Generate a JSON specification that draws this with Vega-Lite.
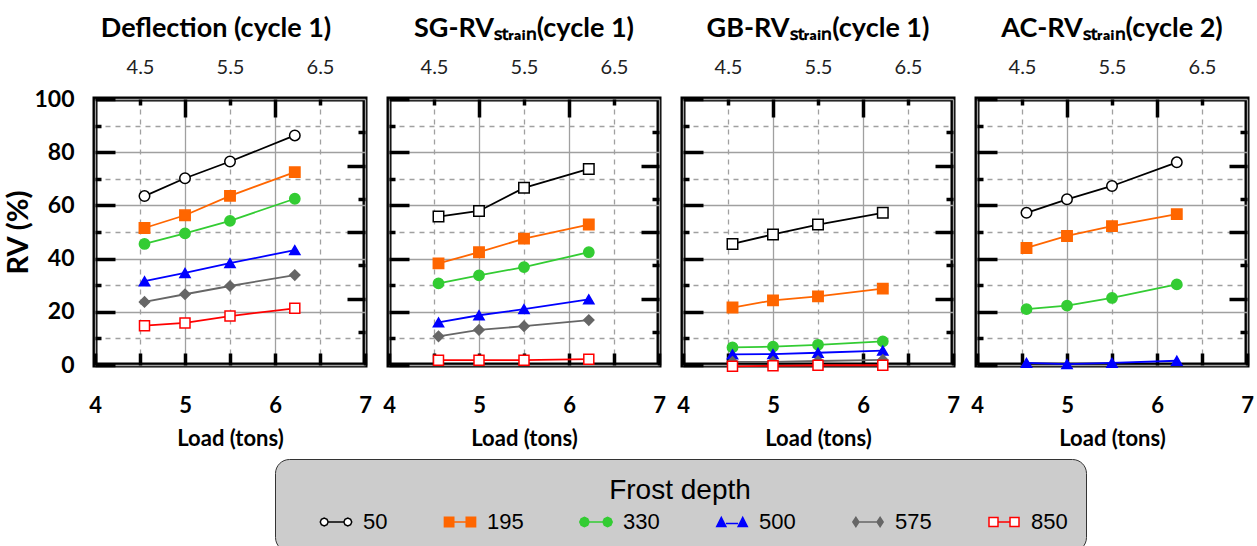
{
  "$schema": "https://vega.github.io/schema/vega-lite/v6.json",
  "background": "white",
  "padding": {"left": 2, "top": 12, "right": 5, "bottom": 0},
  "bounds": "flush",
  "spacing": 24,
  "config": {
    "view": {"stroke": "black", "strokeWidth": 5},
    "title": {"font": "Lato", "fontSize": 27, "fontWeight": "bold", "color": "black", "offset": 14},
    "axis": {"domain": false, "ticks": true, "tickColor": "black", "tickWidth": 3.5, "tickOpacity": 1, "labelFlush": false, "labelOverlap": false, "gridColor": "#a0a0a0", "gridWidth": 1.3, "labelColor": "black", "titleColor": "black"},
    "axisBottom": {"labelFont": "Lato", "labelFontSize": 22, "labelFontWeight": "bold", "titleFont": "Lato", "titleFontSize": 22, "titleFontWeight": "bold", "titlePadding": 12, "labelPadding": 30, "tickSize": 12},
    "axisTop": {"labelFont": "Lato", "labelFontSize": 20, "labelColor": "#222222", "labelPadding": 22, "tickSize": 18},
    "axisLeft": {"labelFont": "Lato", "labelFontSize": 23, "labelFontWeight": "bold", "titleFont": "Lato", "titleFontSize": 29, "titleFontWeight": "bold", "titlePadding": 0, "labelPadding": 21, "tickSize": 20},
    "axisRight": {"tickSize": 18},
    "legend": {"orient": "none", "legendX": 180, "legendY": 360, "direction": "horizontal", "columns": 6, "titleOrient": "top", "titleAnchor": "middle", "titleFont": "Liberation Sans", "titleFontSize": 28, "titleFontWeight": "normal", "titleColor": "black", "titlePadding": 6, "labelFont": "Liberation Sans", "labelFontSize": 22, "labelColor": "black", "labelOffset": 16, "symbolOffset": 32, "columnPadding": 29, "padding": 18, "fillColor": "#cccccc", "strokeColor": "#333333", "cornerRadius": 14, "symbolStrokeWidth": 1.5}
  },
  "data": {"values": [
    {"panel": "D", "depth": "50", "load": 4.55, "rv": 63.5}, {"panel": "D", "depth": "50", "load": 5.0, "rv": 70.2}, {"panel": "D", "depth": "50", "load": 5.5, "rv": 76.5}, {"panel": "D", "depth": "50", "load": 6.22, "rv": 86.3},
    {"panel": "D", "depth": "195", "load": 4.55, "rv": 51.5}, {"panel": "D", "depth": "195", "load": 5.0, "rv": 56.3}, {"panel": "D", "depth": "195", "load": 5.5, "rv": 63.6}, {"panel": "D", "depth": "195", "load": 6.22, "rv": 72.5},
    {"panel": "D", "depth": "330", "load": 4.55, "rv": 45.5}, {"panel": "D", "depth": "330", "load": 5.0, "rv": 49.5}, {"panel": "D", "depth": "330", "load": 5.5, "rv": 54.2}, {"panel": "D", "depth": "330", "load": 6.22, "rv": 62.5},
    {"panel": "D", "depth": "500", "load": 4.55, "rv": 31.5}, {"panel": "D", "depth": "500", "load": 5.0, "rv": 34.6}, {"panel": "D", "depth": "500", "load": 5.5, "rv": 38.3}, {"panel": "D", "depth": "500", "load": 6.22, "rv": 43.2},
    {"panel": "D", "depth": "575", "load": 4.55, "rv": 23.7}, {"panel": "D", "depth": "575", "load": 5.0, "rv": 26.6}, {"panel": "D", "depth": "575", "load": 5.5, "rv": 29.7}, {"panel": "D", "depth": "575", "load": 6.22, "rv": 33.8},
    {"panel": "D", "depth": "850", "load": 4.55, "rv": 14.8}, {"panel": "D", "depth": "850", "load": 5.0, "rv": 15.8}, {"panel": "D", "depth": "850", "load": 5.5, "rv": 18.4}, {"panel": "D", "depth": "850", "load": 6.22, "rv": 21.3},

    {"panel": "SG", "depth": "50", "load": 4.55, "rv": 55.8}, {"panel": "SG", "depth": "50", "load": 5.0, "rv": 57.9}, {"panel": "SG", "depth": "50", "load": 5.5, "rv": 66.6}, {"panel": "SG", "depth": "50", "load": 6.22, "rv": 73.7},
    {"panel": "SG", "depth": "195", "load": 4.55, "rv": 38.2}, {"panel": "SG", "depth": "195", "load": 5.0, "rv": 42.4}, {"panel": "SG", "depth": "195", "load": 5.5, "rv": 47.5}, {"panel": "SG", "depth": "195", "load": 6.22, "rv": 52.8},
    {"panel": "SG", "depth": "330", "load": 4.55, "rv": 30.7}, {"panel": "SG", "depth": "330", "load": 5.0, "rv": 33.7}, {"panel": "SG", "depth": "330", "load": 5.5, "rv": 36.8}, {"panel": "SG", "depth": "330", "load": 6.22, "rv": 42.4},
    {"panel": "SG", "depth": "500", "load": 4.55, "rv": 16.0}, {"panel": "SG", "depth": "500", "load": 5.0, "rv": 18.7}, {"panel": "SG", "depth": "500", "load": 5.5, "rv": 21.0}, {"panel": "SG", "depth": "500", "load": 6.22, "rv": 24.7},
    {"panel": "SG", "depth": "575", "load": 4.55, "rv": 10.8}, {"panel": "SG", "depth": "575", "load": 5.0, "rv": 13.2}, {"panel": "SG", "depth": "575", "load": 5.5, "rv": 14.6}, {"panel": "SG", "depth": "575", "load": 6.22, "rv": 16.9},
    {"panel": "SG", "depth": "850", "load": 4.55, "rv": 1.8}, {"panel": "SG", "depth": "850", "load": 5.0, "rv": 1.8}, {"panel": "SG", "depth": "850", "load": 5.5, "rv": 1.8}, {"panel": "SG", "depth": "850", "load": 6.22, "rv": 2.2},

    {"panel": "GB", "depth": "50", "load": 4.55, "rv": 45.5}, {"panel": "GB", "depth": "50", "load": 5.0, "rv": 49.1}, {"panel": "GB", "depth": "50", "load": 5.5, "rv": 52.8}, {"panel": "GB", "depth": "50", "load": 6.22, "rv": 57.2},
    {"panel": "GB", "depth": "195", "load": 4.55, "rv": 21.6}, {"panel": "GB", "depth": "195", "load": 5.0, "rv": 24.3}, {"panel": "GB", "depth": "195", "load": 5.5, "rv": 25.8}, {"panel": "GB", "depth": "195", "load": 6.22, "rv": 28.7},
    {"panel": "GB", "depth": "330", "load": 4.55, "rv": 6.6}, {"panel": "GB", "depth": "330", "load": 5.0, "rv": 6.9}, {"panel": "GB", "depth": "330", "load": 5.5, "rv": 7.6}, {"panel": "GB", "depth": "330", "load": 6.22, "rv": 8.9},
    {"panel": "GB", "depth": "500", "load": 4.55, "rv": 4.0}, {"panel": "GB", "depth": "500", "load": 5.0, "rv": 4.1}, {"panel": "GB", "depth": "500", "load": 5.5, "rv": 4.6}, {"panel": "GB", "depth": "500", "load": 6.22, "rv": 5.4},
    {"panel": "GB", "depth": "575", "load": 4.55, "rv": 1.2}, {"panel": "GB", "depth": "575", "load": 5.0, "rv": 1.2}, {"panel": "GB", "depth": "575", "load": 5.5, "rv": 1.5}, {"panel": "GB", "depth": "575", "load": 6.22, "rv": 1.9},
    {"panel": "GB", "depth": "850", "load": 4.55, "rv": -0.5}, {"panel": "GB", "depth": "850", "load": 5.0, "rv": -0.3}, {"panel": "GB", "depth": "850", "load": 5.5, "rv": -0.1}, {"panel": "GB", "depth": "850", "load": 6.22, "rv": -0.1},

    {"panel": "AC", "depth": "50", "load": 4.55, "rv": 57.2}, {"panel": "AC", "depth": "50", "load": 5.0, "rv": 62.3}, {"panel": "AC", "depth": "50", "load": 5.5, "rv": 67.3}, {"panel": "AC", "depth": "50", "load": 6.22, "rv": 76.2},
    {"panel": "AC", "depth": "195", "load": 4.55, "rv": 44.0}, {"panel": "AC", "depth": "195", "load": 5.0, "rv": 48.5}, {"panel": "AC", "depth": "195", "load": 5.5, "rv": 52.2}, {"panel": "AC", "depth": "195", "load": 6.22, "rv": 56.7},
    {"panel": "AC", "depth": "330", "load": 4.55, "rv": 21.0}, {"panel": "AC", "depth": "330", "load": 5.0, "rv": 22.3}, {"panel": "AC", "depth": "330", "load": 5.5, "rv": 25.2}, {"panel": "AC", "depth": "330", "load": 6.22, "rv": 30.3},
    {"panel": "AC", "depth": "500", "load": 4.55, "rv": 0.8}, {"panel": "AC", "depth": "500", "load": 5.0, "rv": 0.3}, {"panel": "AC", "depth": "500", "load": 5.5, "rv": 0.8}, {"panel": "AC", "depth": "500", "load": 6.22, "rv": 1.6}
  ]},
  "resolve": {"scale": {"color": "shared", "fill": "shared", "stroke": "shared", "size": "shared", "shape": "independent"}, "legend": {"color": "shared"}},
  "hconcat": [
    {
      "title": {"text": "Deflection (cycle 1)", "dx": -14},
      "width": 270, "height": 266,
      "transform": [{"filter": "datum.panel == 'D'"}],
      "resolve": {"axis": {"x": "independent", "y": "independent"}},
      "layer": [
        {
          "mark": {"type": "line", "strokeWidth": 1.8},
          "encoding": {
            "x": {"field": "load", "type": "quantitative", "scale": {"domain": [4, 7], "nice": false, "zero": false},
              "axis": {"orient": "bottom", "offset": -12, "values": [4, 4.5, 5, 5.5, 6, 6.5, 7], "labelExpr": "datum.value % 1 ? '' : format(datum.value, 'd')", "title": "Load (tons)", "grid": true, "gridDash": {"condition": {"test": "datum.value % 1 !== 0", "value": [5, 5]}, "value": []}}},
            "y": {"field": "rv", "type": "quantitative", "scale": {"domain": [0, 100], "nice": false},
              "axis": {"orient": "left", "offset": -20, "values": [0, 10, 20, 30, 40, 50, 60, 70, 80, 90, 100], "labelExpr": "datum.value % 20 ? '' : format(datum.value, 'd')", "title": "RV (%)", "tickDash": {"condition": {"test": "datum.value % 20 === 0", "value": []}, "value": [0, 14, 6, 40]}, "grid": true, "gridDash": {"condition": {"test": "datum.value % 20 !== 0", "value": [5, 5]}, "value": []}}},
            "color": {"field": "depth", "type": "nominal", "scale": {"domain": ["50", "195", "330", "500", "575", "850"], "range": ["#000000", "#ff6600", "#33cc33", "#0000ff", "#666666", "#ff0000"]},
              "legend": {"title": "Frost depth",
                "encode": {"symbols": {"update": {
                  "shape": {"signal": "datum.value == '50' ? 'M-1.5,0L-1.72,0.53L-2.25,0.75L-2.78,0.53L-3,0L-2.78,-0.53L-2.25,-0.75L-1.72,-0.53Z M3,0L2.78,0.53L2.25,0.75L1.72,0.53L1.5,0L1.72,-0.53L2.25,-0.75L2.78,-0.53Z M-1.5,0L1.5,0' : datum.value == '195' ? 'M-3,-0.9L-1.2,-0.9L-1.2,0.9L-3,0.9Z M1.2,-0.9L3,-0.9L3,0.9L1.2,0.9Z M-1.2,0L1.2,0' : datum.value == '330' ? 'M-1.35,0L-1.62,0.63L-2.25,0.9L-2.88,0.63L-3.15,0L-2.88,-0.63L-2.25,-0.9L-1.62,-0.63Z M3.15,0L2.88,0.63L2.25,0.9L1.62,0.63L1.35,0L1.62,-0.63L2.25,-0.9L2.88,-0.63Z M-1.35,0L1.35,0' : datum.value == '500' ? 'M-3,0.9L-2.1,-0.9L-1.2,0.9Z M1.2,0.9L2.1,-0.9L3,0.9Z M-1.2,0.3L1.2,0.3' : datum.value == '575' ? 'M-3,0L-2.4,-0.9L-1.8,0L-2.4,0.9Z M1.8,0L2.4,-0.9L3,0L2.4,0.9Z M-1.8,0L1.8,0' : 'M-3,-0.9L-1.2,-0.9L-1.2,0.9L-3,0.9Z M1.2,-0.9L3,-0.9L3,0.9L1.2,0.9Z M-1.2,0L1.2,0'"},
                  "fill": {"signal": "datum.value == '195' ? '#ff6600' : datum.value == '330' ? '#33cc33' : datum.value == '500' ? '#0000ff' : datum.value == '575' ? '#666666' : 'transparent'"},
                  "strokeWidth": {"value": 1.5}
                }}}}}
          }
        },
        {
          "mark": {"type": "point", "strokeWidth": 1.5, "opacity": 1},
          "encoding": {
            "x": {"field": "load", "type": "quantitative", "scale": {"domain": [4, 7], "nice": false, "zero": false},
              "axis": {"orient": "top", "offset": -18, "values": [4.5, 5, 5.5, 6, 6.5], "labelExpr": "datum.value % 1 ? format(datum.value, '.1f') : ''", "title": null, "grid": false, "tickDash": {"condition": {"test": "datum.value % 1 === 0", "value": []}, "value": [0, 12, 6, 40]}}},
            "y": {"field": "rv", "type": "quantitative", "scale": {"domain": [0, 100], "nice": false},
              "axis": {"orient": "right", "offset": -18, "values": [12.5, 25, 37.5, 50, 62.5, 75, 87.5], "labels": false, "title": null, "grid": false, "tickDash": {"condition": {"test": "datum.value % 25 === 0", "value": []}, "value": [0, 11, 7, 40]}}},
            "stroke": {"field": "depth", "type": "nominal", "scale": {"domain": ["50", "195", "330", "500", "575", "850"], "range": ["#000000", "#ff6600", "#33cc33", "#0000ff", "#666666", "#ff0000"]}, "legend": null},
            "fill": {"field": "depth", "type": "nominal", "scale": {"domain": ["50", "195", "330", "500", "575", "850"], "range": ["#ffffff", "#ff6600", "#33cc33", "#0000ff", "#666666", "#ffffff"]}, "legend": null},
            "shape": {"field": "depth", "type": "nominal", "scale": {"domain": ["50", "195", "330", "500", "575", "850"], "range": ["circle", "square", "circle", "triangle-up", "diamond", "square"]}, "legend": null},
            "size": {"field": "depth", "type": "ordinal", "scale": {"domain": ["50", "195", "330", "500", "575", "850"], "range": [110, 100, 160, 110, 100, 64]}, "legend": null}
          }
        }
      ]
    },
    {
      "title": "SG-RVₛₜᵣₐᵢₙ(cycle 1)",
      "width": 270, "height": 266,
      "transform": [{"filter": "datum.panel == 'SG'"}],
      "resolve": {"axis": {"x": "independent", "y": "independent"}},
      "layer": [
        {
          "mark": {"type": "line", "strokeWidth": 1.8},
          "encoding": {
            "x": {"field": "load", "type": "quantitative", "scale": {"domain": [4, 7], "nice": false, "zero": false},
              "axis": {"orient": "bottom", "offset": -12, "values": [4, 4.5, 5, 5.5, 6, 6.5, 7], "labelExpr": "datum.value % 1 ? '' : format(datum.value, 'd')", "title": "Load (tons)", "grid": true, "gridDash": {"condition": {"test": "datum.value % 1 !== 0", "value": [5, 5]}, "value": []}}},
            "y": {"field": "rv", "type": "quantitative", "scale": {"domain": [0, 100], "nice": false},
              "axis": {"orient": "left", "offset": -20, "values": [0, 10, 20, 30, 40, 50, 60, 70, 80, 90, 100], "labels": false, "title": null, "tickDash": {"condition": {"test": "datum.value % 20 === 0", "value": []}, "value": [0, 14, 6, 40]}, "grid": true, "gridDash": {"condition": {"test": "datum.value % 20 !== 0", "value": [5, 5]}, "value": []}}},
            "color": {"field": "depth", "type": "nominal", "scale": {"domain": ["50", "195", "330", "500", "575", "850"], "range": ["#000000", "#ff6600", "#33cc33", "#0000ff", "#666666", "#ff0000"]},
              "legend": {"title": "Frost depth",
                "encode": {"symbols": {"update": {
                  "shape": {"signal": "datum.value == '50' ? 'M-1.5,0L-1.72,0.53L-2.25,0.75L-2.78,0.53L-3,0L-2.78,-0.53L-2.25,-0.75L-1.72,-0.53Z M3,0L2.78,0.53L2.25,0.75L1.72,0.53L1.5,0L1.72,-0.53L2.25,-0.75L2.78,-0.53Z M-1.5,0L1.5,0' : datum.value == '195' ? 'M-3,-0.9L-1.2,-0.9L-1.2,0.9L-3,0.9Z M1.2,-0.9L3,-0.9L3,0.9L1.2,0.9Z M-1.2,0L1.2,0' : datum.value == '330' ? 'M-1.35,0L-1.62,0.63L-2.25,0.9L-2.88,0.63L-3.15,0L-2.88,-0.63L-2.25,-0.9L-1.62,-0.63Z M3.15,0L2.88,0.63L2.25,0.9L1.62,0.63L1.35,0L1.62,-0.63L2.25,-0.9L2.88,-0.63Z M-1.35,0L1.35,0' : datum.value == '500' ? 'M-3,0.9L-2.1,-0.9L-1.2,0.9Z M1.2,0.9L2.1,-0.9L3,0.9Z M-1.2,0.3L1.2,0.3' : datum.value == '575' ? 'M-3,0L-2.4,-0.9L-1.8,0L-2.4,0.9Z M1.8,0L2.4,-0.9L3,0L2.4,0.9Z M-1.8,0L1.8,0' : 'M-3,-0.9L-1.2,-0.9L-1.2,0.9L-3,0.9Z M1.2,-0.9L3,-0.9L3,0.9L1.2,0.9Z M-1.2,0L1.2,0'"},
                  "fill": {"signal": "datum.value == '195' ? '#ff6600' : datum.value == '330' ? '#33cc33' : datum.value == '500' ? '#0000ff' : datum.value == '575' ? '#666666' : 'transparent'"},
                  "strokeWidth": {"value": 1.5}
                }}}}}
          }
        },
        {
          "mark": {"type": "point", "strokeWidth": 1.5, "opacity": 1},
          "encoding": {
            "x": {"field": "load", "type": "quantitative", "scale": {"domain": [4, 7], "nice": false, "zero": false},
              "axis": {"orient": "top", "offset": -18, "values": [4.5, 5, 5.5, 6, 6.5], "labelExpr": "datum.value % 1 ? format(datum.value, '.1f') : ''", "title": null, "grid": false, "tickDash": {"condition": {"test": "datum.value % 1 === 0", "value": []}, "value": [0, 12, 6, 40]}}},
            "y": {"field": "rv", "type": "quantitative", "scale": {"domain": [0, 100], "nice": false},
              "axis": {"orient": "right", "offset": -18, "values": [12.5, 25, 37.5, 50, 62.5, 75, 87.5], "labels": false, "title": null, "grid": false, "tickDash": {"condition": {"test": "datum.value % 25 === 0", "value": []}, "value": [0, 11, 7, 40]}}},
            "stroke": {"field": "depth", "type": "nominal", "scale": {"domain": ["50", "195", "330", "500", "575", "850"], "range": ["#000000", "#ff6600", "#33cc33", "#0000ff", "#666666", "#ff0000"]}, "legend": null},
            "fill": {"field": "depth", "type": "nominal", "scale": {"domain": ["50", "195", "330", "500", "575", "850"], "range": ["#ffffff", "#ff6600", "#33cc33", "#0000ff", "#666666", "#ffffff"]}, "legend": null},
            "shape": {"field": "depth", "type": "nominal", "scale": {"domain": ["50", "195", "330", "500", "575", "850"], "range": ["square", "square", "circle", "triangle-up", "diamond", "square"]}, "legend": null},
            "size": {"field": "depth", "type": "ordinal", "scale": {"domain": ["50", "195", "330", "500", "575", "850"], "range": [110, 100, 160, 110, 100, 64]}, "legend": null}
          }
        }
      ]
    },
    {
      "title": "GB-RVₛₜᵣₐᵢₙ(cycle 1)",
      "width": 270, "height": 266,
      "transform": [{"filter": "datum.panel == 'GB'"}],
      "resolve": {"axis": {"x": "independent", "y": "independent"}},
      "layer": [
        {
          "mark": {"type": "line", "strokeWidth": 1.8},
          "encoding": {
            "x": {"field": "load", "type": "quantitative", "scale": {"domain": [4, 7], "nice": false, "zero": false},
              "axis": {"orient": "bottom", "offset": -12, "values": [4, 4.5, 5, 5.5, 6, 6.5, 7], "labelExpr": "datum.value % 1 ? '' : format(datum.value, 'd')", "title": "Load (tons)", "grid": true, "gridDash": {"condition": {"test": "datum.value % 1 !== 0", "value": [5, 5]}, "value": []}}},
            "y": {"field": "rv", "type": "quantitative", "scale": {"domain": [0, 100], "nice": false},
              "axis": {"orient": "left", "offset": -20, "values": [0, 10, 20, 30, 40, 50, 60, 70, 80, 90, 100], "labels": false, "title": null, "tickDash": {"condition": {"test": "datum.value % 20 === 0", "value": []}, "value": [0, 14, 6, 40]}, "grid": true, "gridDash": {"condition": {"test": "datum.value % 20 !== 0", "value": [5, 5]}, "value": []}}},
            "color": {"field": "depth", "type": "nominal", "scale": {"domain": ["50", "195", "330", "500", "575", "850"], "range": ["#000000", "#ff6600", "#33cc33", "#0000ff", "#666666", "#ff0000"]},
              "legend": {"title": "Frost depth",
                "encode": {"symbols": {"update": {
                  "shape": {"signal": "datum.value == '50' ? 'M-1.5,0L-1.72,0.53L-2.25,0.75L-2.78,0.53L-3,0L-2.78,-0.53L-2.25,-0.75L-1.72,-0.53Z M3,0L2.78,0.53L2.25,0.75L1.72,0.53L1.5,0L1.72,-0.53L2.25,-0.75L2.78,-0.53Z M-1.5,0L1.5,0' : datum.value == '195' ? 'M-3,-0.9L-1.2,-0.9L-1.2,0.9L-3,0.9Z M1.2,-0.9L3,-0.9L3,0.9L1.2,0.9Z M-1.2,0L1.2,0' : datum.value == '330' ? 'M-1.35,0L-1.62,0.63L-2.25,0.9L-2.88,0.63L-3.15,0L-2.88,-0.63L-2.25,-0.9L-1.62,-0.63Z M3.15,0L2.88,0.63L2.25,0.9L1.62,0.63L1.35,0L1.62,-0.63L2.25,-0.9L2.88,-0.63Z M-1.35,0L1.35,0' : datum.value == '500' ? 'M-3,0.9L-2.1,-0.9L-1.2,0.9Z M1.2,0.9L2.1,-0.9L3,0.9Z M-1.2,0.3L1.2,0.3' : datum.value == '575' ? 'M-3,0L-2.4,-0.9L-1.8,0L-2.4,0.9Z M1.8,0L2.4,-0.9L3,0L2.4,0.9Z M-1.8,0L1.8,0' : 'M-3,-0.9L-1.2,-0.9L-1.2,0.9L-3,0.9Z M1.2,-0.9L3,-0.9L3,0.9L1.2,0.9Z M-1.2,0L1.2,0'"},
                  "fill": {"signal": "datum.value == '195' ? '#ff6600' : datum.value == '330' ? '#33cc33' : datum.value == '500' ? '#0000ff' : datum.value == '575' ? '#666666' : 'transparent'"},
                  "strokeWidth": {"value": 1.5}
                }}}}}
          }
        },
        {
          "mark": {"type": "point", "strokeWidth": 1.5, "opacity": 1},
          "encoding": {
            "x": {"field": "load", "type": "quantitative", "scale": {"domain": [4, 7], "nice": false, "zero": false},
              "axis": {"orient": "top", "offset": -18, "values": [4.5, 5, 5.5, 6, 6.5], "labelExpr": "datum.value % 1 ? format(datum.value, '.1f') : ''", "title": null, "grid": false, "tickDash": {"condition": {"test": "datum.value % 1 === 0", "value": []}, "value": [0, 12, 6, 40]}}},
            "y": {"field": "rv", "type": "quantitative", "scale": {"domain": [0, 100], "nice": false},
              "axis": {"orient": "right", "offset": -18, "values": [12.5, 25, 37.5, 50, 62.5, 75, 87.5], "labels": false, "title": null, "grid": false, "tickDash": {"condition": {"test": "datum.value % 25 === 0", "value": []}, "value": [0, 11, 7, 40]}}},
            "stroke": {"field": "depth", "type": "nominal", "scale": {"domain": ["50", "195", "330", "500", "575", "850"], "range": ["#000000", "#ff6600", "#33cc33", "#0000ff", "#666666", "#ff0000"]}, "legend": null},
            "fill": {"field": "depth", "type": "nominal", "scale": {"domain": ["50", "195", "330", "500", "575", "850"], "range": ["#ffffff", "#ff6600", "#33cc33", "#0000ff", "#666666", "#ffffff"]}, "legend": null},
            "shape": {"field": "depth", "type": "nominal", "scale": {"domain": ["50", "195", "330", "500", "575", "850"], "range": ["square", "square", "circle", "triangle-up", "diamond", "square"]}, "legend": null},
            "size": {"field": "depth", "type": "ordinal", "scale": {"domain": ["50", "195", "330", "500", "575", "850"], "range": [110, 100, 160, 110, 100, 64]}, "legend": null}
          }
        }
      ]
    },
    {
      "title": "AC-RVₛₜᵣₐᵢₙ(cycle 2)",
      "width": 270, "height": 266,
      "transform": [{"filter": "datum.panel == 'AC'"}],
      "resolve": {"axis": {"x": "independent", "y": "independent"}},
      "layer": [
        {
          "mark": {"type": "line", "strokeWidth": 1.8},
          "encoding": {
            "x": {"field": "load", "type": "quantitative", "scale": {"domain": [4, 7], "nice": false, "zero": false},
              "axis": {"orient": "bottom", "offset": -12, "values": [4, 4.5, 5, 5.5, 6, 6.5, 7], "labelExpr": "datum.value % 1 ? '' : format(datum.value, 'd')", "title": "Load (tons)", "grid": true, "gridDash": {"condition": {"test": "datum.value % 1 !== 0", "value": [5, 5]}, "value": []}}},
            "y": {"field": "rv", "type": "quantitative", "scale": {"domain": [0, 100], "nice": false},
              "axis": {"orient": "left", "offset": -20, "values": [0, 10, 20, 30, 40, 50, 60, 70, 80, 90, 100], "labels": false, "title": null, "tickDash": {"condition": {"test": "datum.value % 20 === 0", "value": []}, "value": [0, 14, 6, 40]}, "grid": true, "gridDash": {"condition": {"test": "datum.value % 20 !== 0", "value": [5, 5]}, "value": []}}},
            "color": {"field": "depth", "type": "nominal", "scale": {"domain": ["50", "195", "330", "500", "575", "850"], "range": ["#000000", "#ff6600", "#33cc33", "#0000ff", "#666666", "#ff0000"]},
              "legend": {"title": "Frost depth",
                "encode": {"symbols": {"update": {
                  "shape": {"signal": "datum.value == '50' ? 'M-1.5,0L-1.72,0.53L-2.25,0.75L-2.78,0.53L-3,0L-2.78,-0.53L-2.25,-0.75L-1.72,-0.53Z M3,0L2.78,0.53L2.25,0.75L1.72,0.53L1.5,0L1.72,-0.53L2.25,-0.75L2.78,-0.53Z M-1.5,0L1.5,0' : datum.value == '195' ? 'M-3,-0.9L-1.2,-0.9L-1.2,0.9L-3,0.9Z M1.2,-0.9L3,-0.9L3,0.9L1.2,0.9Z M-1.2,0L1.2,0' : datum.value == '330' ? 'M-1.35,0L-1.62,0.63L-2.25,0.9L-2.88,0.63L-3.15,0L-2.88,-0.63L-2.25,-0.9L-1.62,-0.63Z M3.15,0L2.88,0.63L2.25,0.9L1.62,0.63L1.35,0L1.62,-0.63L2.25,-0.9L2.88,-0.63Z M-1.35,0L1.35,0' : datum.value == '500' ? 'M-3,0.9L-2.1,-0.9L-1.2,0.9Z M1.2,0.9L2.1,-0.9L3,0.9Z M-1.2,0.3L1.2,0.3' : datum.value == '575' ? 'M-3,0L-2.4,-0.9L-1.8,0L-2.4,0.9Z M1.8,0L2.4,-0.9L3,0L2.4,0.9Z M-1.8,0L1.8,0' : 'M-3,-0.9L-1.2,-0.9L-1.2,0.9L-3,0.9Z M1.2,-0.9L3,-0.9L3,0.9L1.2,0.9Z M-1.2,0L1.2,0'"},
                  "fill": {"signal": "datum.value == '195' ? '#ff6600' : datum.value == '330' ? '#33cc33' : datum.value == '500' ? '#0000ff' : datum.value == '575' ? '#666666' : 'transparent'"},
                  "strokeWidth": {"value": 1.5}
                }}}}}
          }
        },
        {
          "mark": {"type": "point", "strokeWidth": 1.5, "opacity": 1},
          "encoding": {
            "x": {"field": "load", "type": "quantitative", "scale": {"domain": [4, 7], "nice": false, "zero": false},
              "axis": {"orient": "top", "offset": -18, "values": [4.5, 5, 5.5, 6, 6.5], "labelExpr": "datum.value % 1 ? format(datum.value, '.1f') : ''", "title": null, "grid": false, "tickDash": {"condition": {"test": "datum.value % 1 === 0", "value": []}, "value": [0, 12, 6, 40]}}},
            "y": {"field": "rv", "type": "quantitative", "scale": {"domain": [0, 100], "nice": false},
              "axis": {"orient": "right", "offset": -18, "values": [12.5, 25, 37.5, 50, 62.5, 75, 87.5], "labels": false, "title": null, "grid": false, "tickDash": {"condition": {"test": "datum.value % 25 === 0", "value": []}, "value": [0, 11, 7, 40]}}},
            "stroke": {"field": "depth", "type": "nominal", "scale": {"domain": ["50", "195", "330", "500", "575", "850"], "range": ["#000000", "#ff6600", "#33cc33", "#0000ff", "#666666", "#ff0000"]}, "legend": null},
            "fill": {"field": "depth", "type": "nominal", "scale": {"domain": ["50", "195", "330", "500", "575", "850"], "range": ["#ffffff", "#ff6600", "#33cc33", "#0000ff", "#666666", "#ffffff"]}, "legend": null},
            "shape": {"field": "depth", "type": "nominal", "scale": {"domain": ["50", "195", "330", "500", "575", "850"], "range": ["circle", "square", "circle", "triangle-up", "diamond", "square"]}, "legend": null},
            "size": {"field": "depth", "type": "ordinal", "scale": {"domain": ["50", "195", "330", "500", "575", "850"], "range": [110, 100, 160, 110, 100, 64]}, "legend": null}
          }
        }
      ]
    }
  ]
}
